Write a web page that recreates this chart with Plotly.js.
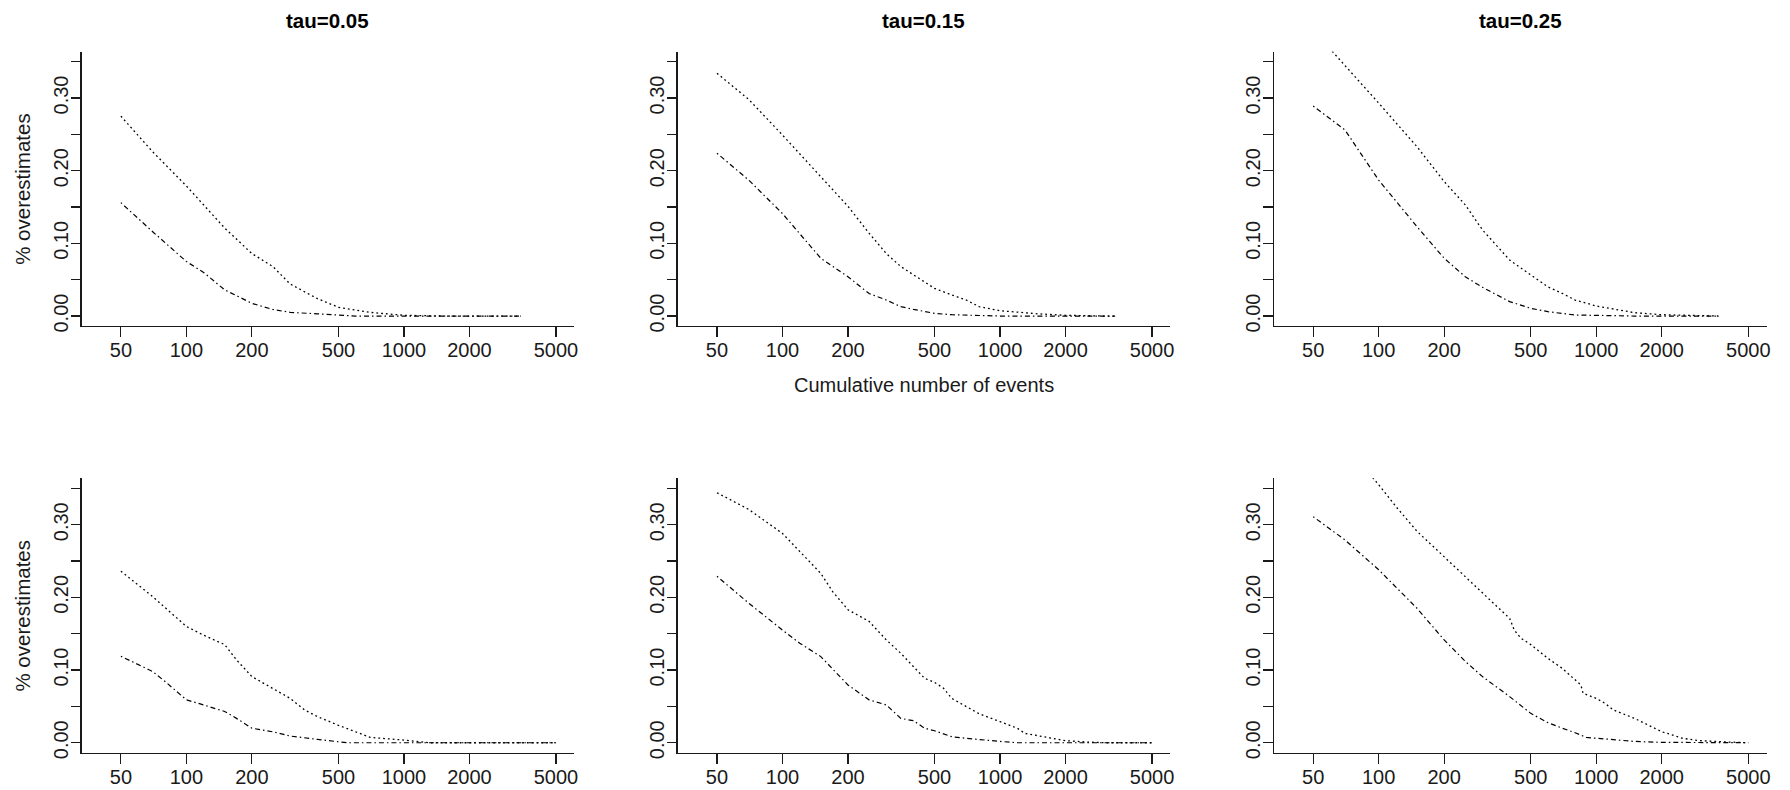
<!DOCTYPE html>
<html>
<head>
<meta charset="utf-8">
<script src="https://cdn.plot.ly/plotly-3.0.1.min.js"></script>
<style>
  html, body { margin: 0; padding: 0; background: #ffffff; }
  #chart { width: 1790px; height: 790px; }
</style>
</head>
<body>
<div id="chart"></div>
<script>
// ---------------- data ----------------
const panelTitles = ["tau=0.05", "tau=0.15", "tau=0.25"];
const xAxisTitle = "Cumulative number of events";
const yAxisTitle = "% overestimates";

const xTickVals = [50, 100, 200, 500, 1000, 2000, 5000];
const xTickText = ["50", "100", "200", "500", "1000", "2000", "5000"];
const yTickVals = [0, 0.05, 0.10, 0.15, 0.20, 0.25, 0.30, 0.35];
const yTickText = ["0.00", "", "0.10", "", "0.20", "", "0.30", ""];

// top row, tau = 0.05
const top05UpperN = [50, 70, 100, 150, 200, 250, 300, 400, 500, 700, 1000, 1500, 3450];
const top05UpperV = [0.275, 0.226, 0.179, 0.121, 0.086, 0.068, 0.044, 0.024, 0.012, 0.005, 0.001, 0, 0];
const top05LowerN = [50, 70, 100, 120, 150, 200, 250, 300, 400, 500, 600, 3450];
const top05LowerV = [0.156, 0.116, 0.075, 0.060, 0.036, 0.0175, 0.009, 0.005, 0.003, 0.0014, 0, 0];

// top row, tau = 0.15
const top15UpperN = [50, 70, 100, 150, 200, 250, 300, 350, 400, 500, 600, 700, 800, 1000, 1500, 2000, 3000, 3380];
const top15UpperV = [0.334, 0.298, 0.249, 0.192, 0.151, 0.114, 0.086, 0.068, 0.0565, 0.038, 0.029, 0.022, 0.013, 0.0073, 0.003, 0.001, 0, 0];
const top15LowerN = [50, 70, 100, 120, 150, 200, 250, 300, 350, 400, 500, 600, 800, 1000, 3380];
const top15LowerV = [0.224, 0.187, 0.141, 0.114, 0.0795, 0.054, 0.031, 0.022, 0.0129, 0.0092, 0.0037, 0.0018, 0.001, 0, 0];

// top row, tau = 0.25
const top25UpperN = [50, 60, 100, 150, 200, 250, 300, 400, 500, 600, 700, 800, 1000, 1500, 2000, 3000, 3660];
const top25UpperV = [0.394, 0.367, 0.293, 0.233, 0.185, 0.153, 0.1185, 0.077, 0.0565, 0.040, 0.031, 0.022, 0.0138, 0.0046, 0.0018, 0, 0];
const top25LowerN = [50, 70, 100, 150, 200, 250, 300, 400, 500, 600, 800, 1000, 1500, 3660];
const top25LowerV = [0.289, 0.256, 0.187, 0.123, 0.0795, 0.054, 0.0395, 0.0198, 0.0106, 0.006, 0.0014, 0.001, 0, 0];

// bottom row, tau = 0.05
const bot05UpperN = [50, 70, 100, 120, 150, 170, 200, 250, 300, 350, 400, 500, 600, 700, 1000, 1200, 1300, 5000];
const bot05UpperV = [0.236, 0.201, 0.160, 0.148, 0.135, 0.114, 0.091, 0.075, 0.061, 0.045, 0.036, 0.024, 0.015, 0.0073, 0.0037, 0.001, 0, 0];
const bot05LowerN = [50, 70, 80, 100, 120, 150, 170, 200, 250, 300, 400, 500, 550, 5000];
const bot05LowerV = [0.119, 0.098, 0.084, 0.059, 0.052, 0.043, 0.0335, 0.020, 0.015, 0.0092, 0.0046, 0.0018, 0, 0];

// bottom row, tau = 0.15
const bot15UpperN = [50, 70, 100, 120, 150, 170, 200, 250, 300, 350, 400, 450, 500, 550, 600, 700, 800, 1000, 1200, 1300, 1500, 2000, 2500, 3000, 5000];
const bot15UpperV = [0.344, 0.321, 0.288, 0.263, 0.233, 0.208, 0.183, 0.167, 0.1415, 0.123, 0.105, 0.0887, 0.083, 0.075, 0.061, 0.0496, 0.040, 0.029, 0.020, 0.0129, 0.0092, 0.0028, 0.001, 0, 0];
const bot15LowerN = [50, 70, 100, 120, 150, 200, 250, 300, 350, 400, 450, 500, 600, 700, 1000, 1200, 5000];
const bot15LowerV = [0.229, 0.192, 0.155, 0.137, 0.1185, 0.0795, 0.059, 0.052, 0.0335, 0.0303, 0.020, 0.0165, 0.0083, 0.006, 0.0018, 0, 0];

// bottom row, tau = 0.25
const bot25UpperN = [50, 70, 100, 120, 150, 200, 250, 300, 350, 400, 420, 450, 500, 600, 700, 800, 850, 870, 1000, 1100, 1200, 1500, 2000, 2500, 3000, 4000, 5000];
const bot25UpperV = [0.46, 0.41, 0.355, 0.325, 0.291, 0.256, 0.229, 0.206, 0.187, 0.171, 0.155, 0.144, 0.135, 0.116, 0.102, 0.086, 0.0795, 0.068, 0.061, 0.054, 0.045, 0.0335, 0.0152, 0.006, 0.0028, 0.001, 0];
const bot25LowerN = [50, 70, 100, 150, 200, 250, 300, 400, 500, 600, 700, 800, 900, 1000, 1300, 1500, 2000, 5000];
const bot25LowerV = [0.311, 0.279, 0.238, 0.185, 0.1415, 0.112, 0.091, 0.0634, 0.0404, 0.0276, 0.0198, 0.0138, 0.0073, 0.006, 0.0037, 0.0018, 0.0005, 0];

// ---------------- layout geometry (pixels) ----------------
const W = 1790, H = 790;
const colLeft = [81.5, 677.6, 1273.8];
const colRight = [574.2, 1170.3, 1766.5];
const rowTop = [51.5, 478.2];
const rowBottom = [326.2, 752.9];
const FONT = "'Liberation Sans', Arial, Helvetica, sans-serif";
const INK = "#1a1a1a";

const panels = [
  {row: 0, col: 0, up: [top05UpperN, top05UpperV], lo: [top05LowerN, top05LowerV]},
  {row: 0, col: 1, up: [top15UpperN, top15UpperV], lo: [top15LowerN, top15LowerV]},
  {row: 0, col: 2, up: [top25UpperN, top25UpperV], lo: [top25LowerN, top25LowerV]},
  {row: 1, col: 0, up: [bot05UpperN, bot05UpperV], lo: [bot05LowerN, bot05LowerV]},
  {row: 1, col: 1, up: [bot15UpperN, bot15UpperV], lo: [bot15LowerN, bot15LowerV]},
  {row: 1, col: 2, up: [bot25UpperN, bot25UpperV], lo: [bot25LowerN, bot25LowerV]}
];

const traces = [];
const layout = {
  width: W, height: H,
  margin: {l: 0, r: 0, t: 0, b: 0},
  paper_bgcolor: "#ffffff",
  plot_bgcolor: "#ffffff",
  showlegend: false,
  font: {family: FONT, color: INK, size: 20},
  annotations: []
};

panels.forEach((p, i) => {
  const k = i + 1;
  const xa = "x" + (k === 1 ? "" : k);
  const ya = "y" + (k === 1 ? "" : k);
  traces.push({
    type: "scatter", mode: "lines", x: p.up[0], y: p.up[1],
    xaxis: xa, yaxis: ya,
    line: {color: "#000000", width: 1.3, dash: "1.8px,3px"},
    hoverinfo: "skip"
  });
  traces.push({
    type: "scatter", mode: "lines", x: p.lo[0], y: p.lo[1],
    xaxis: xa, yaxis: ya,
    line: {color: "#000000", width: 1.2, dash: "1.5px,3px,5px,3px"},
    hoverinfo: "skip"
  });
  const xKey = "xaxis" + (k === 1 ? "" : k);
  const yKey = "yaxis" + (k === 1 ? "" : k);
  layout[xKey] = {
    domain: [colLeft[p.col] / W, colRight[p.col] / W],
    anchor: ya,
    type: "log",
    range: [1.5179, 3.7827],
    tickmode: "array", tickvals: xTickVals, ticktext: xTickText,
    ticks: "outside", ticklen: 9.5, tickwidth: 1.2, tickcolor: INK,
    showline: true, linecolor: INK, linewidth: 1.2,
    showgrid: false, zeroline: false,
    tickfont: {family: FONT, size: 20, color: INK},
    ticklabelstandoff: -4,
    fixedrange: true
  };
  layout[yKey] = {
    domain: [1 - rowBottom[p.row] / H, 1 - rowTop[p.row] / H],
    anchor: xa,
    range: [-0.014, 0.364],
    tickmode: "array", tickvals: yTickVals, ticktext: yTickText,
    tickangle: -90,
    ticks: "outside", ticklen: 9.5, tickwidth: 1.2, tickcolor: INK,
    showline: true, linecolor: INK, linewidth: 1.2,
    showgrid: false, zeroline: false,
    tickfont: {family: FONT, size: 20, color: INK},
    ticklabelstandoff: -5,
    fixedrange: true
  };
});

// panel titles (top row)
panelTitles.forEach((t, c) => {
  layout.annotations.push({
    xref: "paper", yref: "paper",
    x: (colLeft[c] + colRight[c]) / 2 / W, y: 1 - 20 / H,
    xanchor: "center", yanchor: "middle",
    text: "<b>" + t + "</b>", showarrow: false,
    font: {family: FONT, size: 20.5, color: "#000000"}
  });
});

// x-axis title under the top middle panel
layout.annotations.push({
  xref: "paper", yref: "paper",
  x: (colLeft[1] + colRight[1]) / 2 / W, y: 1 - 385 / H,
  xanchor: "center", yanchor: "middle",
  text: xAxisTitle, showarrow: false,
  font: {family: FONT, size: 20, color: INK}
});

// y-axis titles for the left panels
[0, 1].forEach(r => {
  layout.annotations.push({
    xref: "paper", yref: "paper",
    x: 23 / W, y: 1 - ((rowTop[r] + rowBottom[r]) / 2) / H,
    xanchor: "center", yanchor: "middle",
    textangle: -90,
    text: yAxisTitle, showarrow: false,
    font: {family: FONT, size: 20.5, color: INK}
  });
});

Plotly.newPlot("chart", traces, layout, {staticPlot: true, displayModeBar: false});
</script>
</body>
</html>
